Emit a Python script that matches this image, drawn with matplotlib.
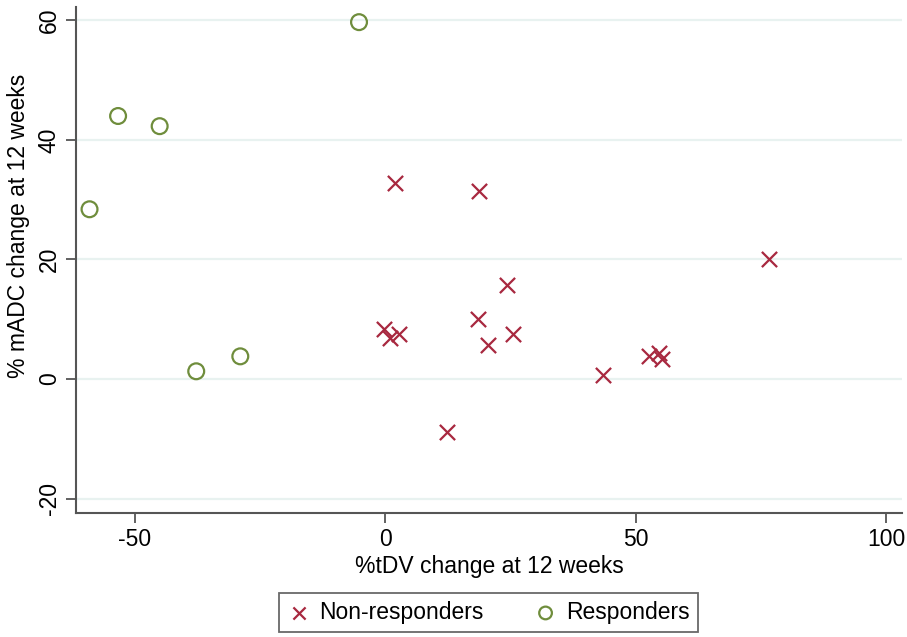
import matplotlib
matplotlib.use('Agg')
import matplotlib.pyplot as plt

plt.rcParams['font.family'] = ['Liberation Sans', 'DejaVu Sans']
plt.rcParams['axes.unicode_minus'] = False

# responders (green circles)
resp_x = [-5.2, -53.3, -45.0, -59.0, -37.7, -28.9]
resp_y = [59.7, 44.0, 42.3, 28.4, 1.3, 3.8]

# non-responders (red crosses)
non_x = [2.0, 18.8, 76.7, 24.3, 18.5, -0.3, 1.0, 2.8, 20.5, 25.5, 43.6, 52.6, 54.6, 55.2, 12.4]
non_y = [32.8, 31.4, 20.0, 15.7, 10.1, 8.4, 6.9, 7.5, 5.7, 7.5, 0.7, 3.9, 4.3, 3.4, -8.9]

xticks = [-50, 0, 50, 100]
yticks = [-20, 0, 20, 40, 60]

red = '#a8283f'
green = '#6f8d3c'

fig = plt.figure(figsize=(9.07, 6.37), dpi=100)
ax = fig.add_axes([0.0838, 0.1947, 0.9107, 0.794])

for yv in yticks:
    ax.axhline(yv, color='#e8f2f0', lw=1.6, zorder=0)

ax.scatter(non_x, non_y, marker='x', s=120, color=red, linewidths=1.6,
           label='Non-responders', zorder=3)
ax.scatter(resp_x, resp_y, marker='o', s=130, facecolors='none',
           edgecolors=green, linewidths=1.6, label='Responders', zorder=3)

ax.set_xlim(-61.7, 103.2)
ax.set_ylim(-22.4, 62.2)
ax.set_xticks(xticks)
ax.set_yticks(yticks)
ax.tick_params(axis='both', length=7, width=1.3, color='#555555', labelsize=16.5, pad=4)
for lab in ax.get_yticklabels():
    lab.set_rotation(90)
    lab.set_va('center')

for s in ['top', 'right']:
    ax.spines[s].set_visible(False)
for s in ['left', 'bottom']:
    ax.spines[s].set_color('#555555')
    ax.spines[s].set_linewidth(1.5)

ax.set_xlabel('%tDV change at 12 weeks', fontsize=16.5, labelpad=3)
ax.set_ylabel('% mADC change at 12 weeks', fontsize=16.5)
ax.yaxis.set_label_coords(-0.056, 0.567)

leg = fig.legend(loc='center', bbox_to_anchor=(0.5386, 0.0385), ncol=2,
                 fontsize=16.5, frameon=True, fancybox=False, edgecolor='#444444',
                 markerscale=0.8, handletextpad=0.4, columnspacing=2.2,
                 borderpad=0.35, handlelength=1.0)
leg.get_frame().set_linewidth(1.3)

fig.savefig('out.png', dpi=100)
